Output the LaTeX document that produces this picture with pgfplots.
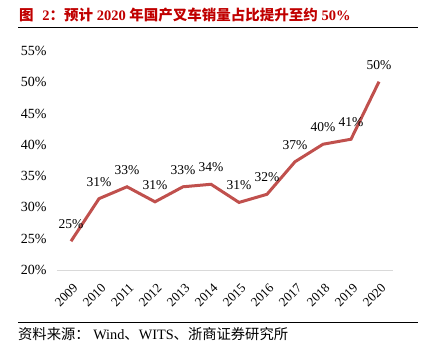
\documentclass[border=0pt]{standalone}
\usepackage{pgfplots}
\pgfplotsset{compat=1.18}
\usepackage{fontspec}
\setmainfont{Liberation Serif}
\newfontfamily\cjk{Noto Sans CJK SC}
\definecolor{linered}{HTML}{C0504D}
\definecolor{titlered}{HTML}{C00000}
\begin{document}
\begin{tikzpicture}
\useasboundingbox (0pt,0pt) rectangle (434pt,-351pt);
\node[anchor=west, text=titlered, font=\fontsize{14.5}{16}\selectfont\bfseries, inner sep=0] at (19pt,-15pt) {{\cjk 图}\hspace{0.6em}2{\cjk ：预计}\ 2020\ {\cjk 年国产叉车销量占比提升至约}\ 50\%};
\draw[line width=0.9pt] (18pt,-27pt) -- (418pt,-27pt);
\begin{axis}[
  at={(57pt,-270pt)}, anchor=south west, scale only axis,
  width=336pt, height=219pt,
  xmin=2008.5, xmax=2020.5, ymin=20, ymax=55,
  axis x line*=bottom, axis y line*=left,
  y axis line style={draw=none},
  x axis line style={draw=black!15, line width=0.8pt, -},
  major tick length=0pt,
  xtick={2009,2010,2011,2012,2013,2014,2015,2016,2017,2018,2019,2020},
  xticklabels={2009,2010,2011,2012,2013,2014,2015,2016,2017,2018,2019,2020},
  xticklabel style={rotate=45, anchor=north east, font=\fontsize{13}{14}\selectfont, inner sep=1pt, yshift=-9pt, xshift=-7pt},
  ytick={20,25,...,55},
  yticklabel={\pgfmathprintnumber{\tick}\%},
  yticklabel style={font=\fontsize{14}{15}\selectfont, xshift=-7pt},
  /pgf/number format/assume math mode=true,
  clip=false,
  nodes near coords={\pgfmathprintnumber[fixed,precision=0]{\pgfplotspointmeta}\%},
  every node near coord/.append style={anchor=center, yshift=17pt, font=\fontsize{13.5}{15}\selectfont, text=black},
]
\addplot[color=linered, line width=3pt, mark=none] coordinates {
(2009,24.6) (2010,31.4) (2011,33.3) (2012,30.9) (2013,33.3) (2014,33.7)
(2015,30.8) (2016,32.1) (2017,37.3) (2018,40.1) (2019,40.9) (2020,50.1)};
\end{axis}
\draw[line width=0.9pt] (18pt,-322pt) -- (418pt,-322pt);
\node[anchor=west, inner sep=0, font=\fontsize{14.3}{15}\selectfont] at (18pt,-334pt) {{\cjk 资料来源：}\ Wind{\cjk 、}WITS{\cjk 、浙商证券研究所}};
\end{tikzpicture}
\end{document}
